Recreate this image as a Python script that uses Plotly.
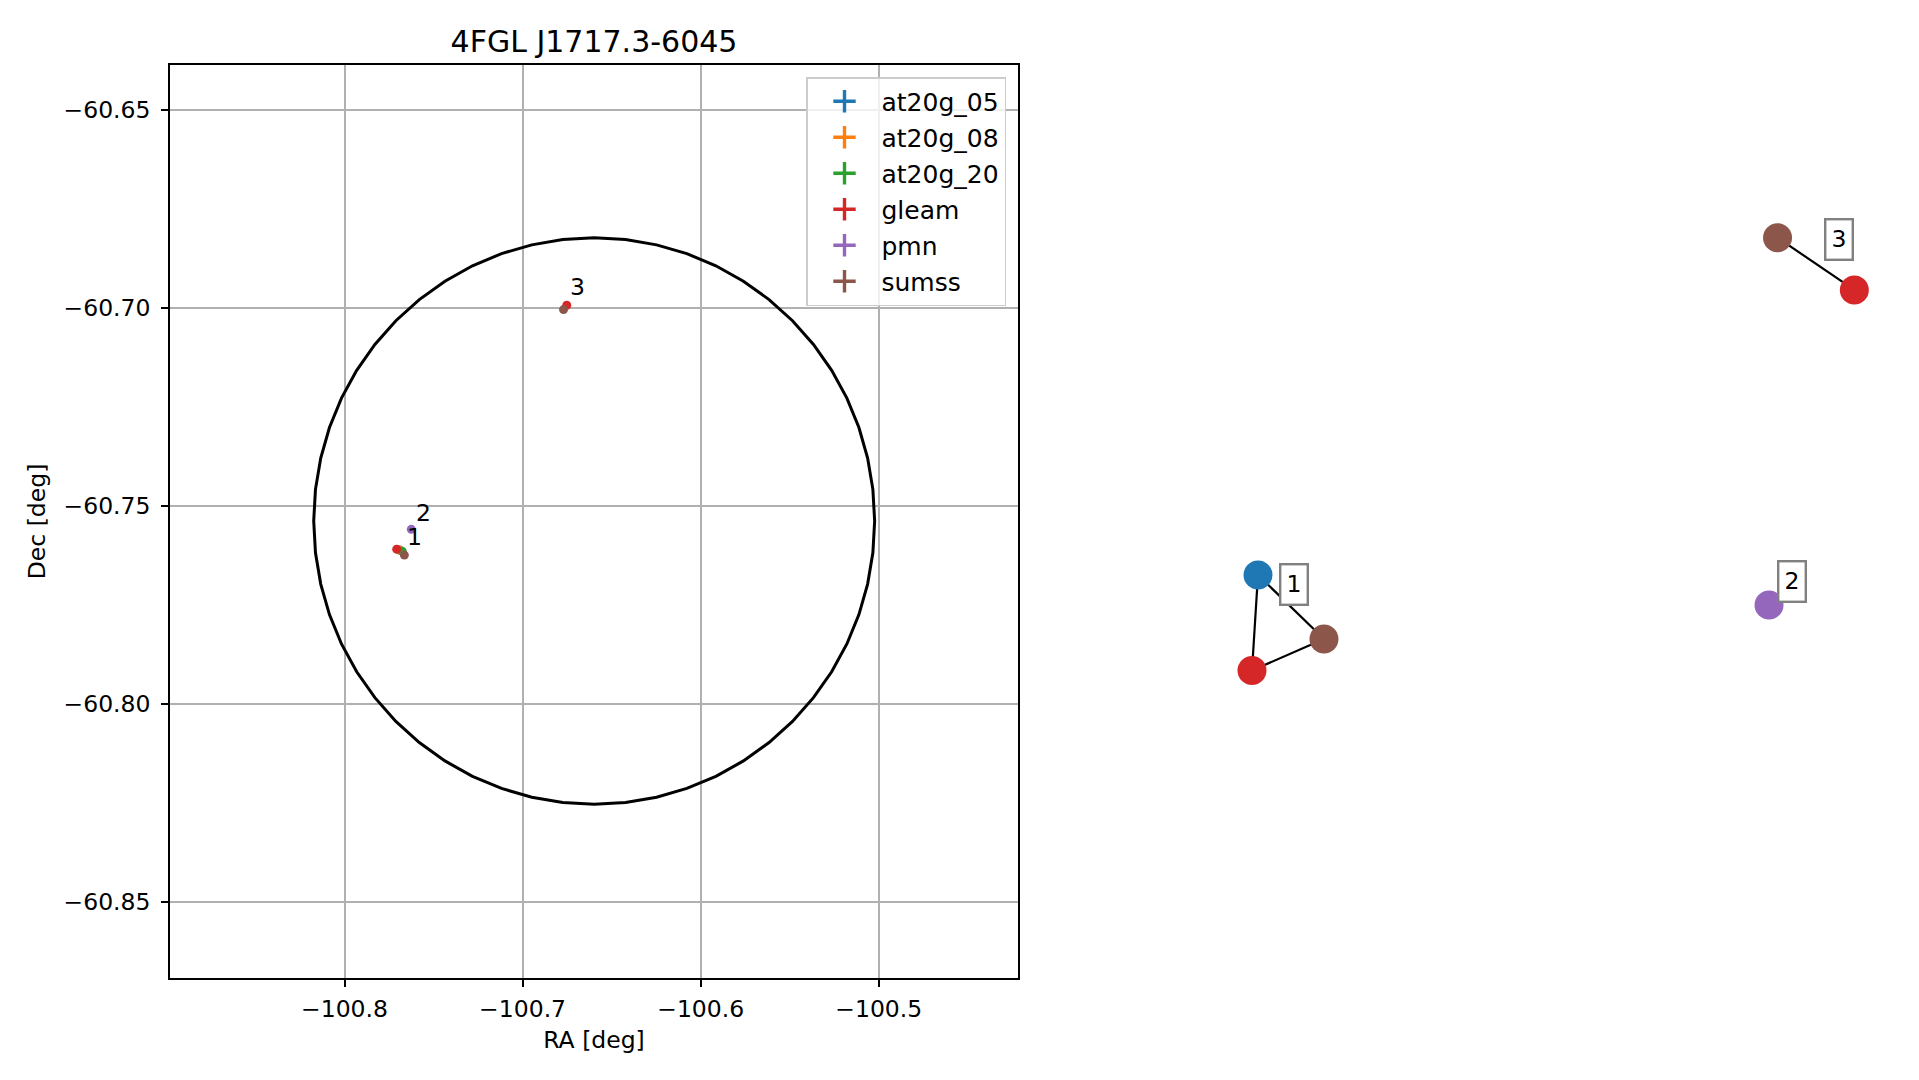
import numpy as np
import plotly.graph_objects as go

# ---------------- data ----------------
title_text = "4FGL J1717.3-6045"
catalogs = ["at20g_05", "at20g_08", "at20g_20", "gleam", "pmn", "sumss"]
cat_colors = ["#1f77b4", "#ff7f0e", "#2ca02c", "#d62728", "#9467bd", "#8c564b"]

ra_at20g_05 = [-100.7691]
dec_at20g_05 = [-60.7611]
ra_at20g_08 = [-100.7691]
dec_at20g_08 = [-60.7611]
ra_at20g_20 = [-100.7676]
dec_at20g_20 = [-60.7614]
ra_gleam = [-100.7707, -100.6752]
dec_gleam = [-60.7609, -60.6993]
ra_pmn = [-100.7625]
dec_pmn = [-60.7559]
ra_sumss = [-100.7664, -100.6770]
dec_sumss = [-60.7624, -60.7004]

ra_err_at20g_05 = [0.0002]
dec_err_at20g_05 = [0.0001]
ra_err_at20g_08 = [0.0002]
dec_err_at20g_08 = [0.0001]
ra_err_at20g_20 = [0.0002]
dec_err_at20g_20 = [0.0001]
ra_err_gleam = [0.0004, 0.0004]
dec_err_gleam = [0.0002, 0.0002]
ra_err_pmn = [0.0004]
dec_err_pmn = [0.0002]
ra_err_sumss = [0.0004, 0.0004]
dec_err_sumss = [0.0002, 0.0002]

group_labels = ["1", "2", "3"]
group_label_ra = [-100.7606, -100.7557, -100.6689]
group_label_dec = [-60.7579, -60.7517, -60.6946]

# 4FGL error ellipse
circle_ra0 = -100.6598
circle_dec0 = -60.7538
circle_r_ra = 0.1575
circle_r_dec = 0.07154
circle_nvert = 56

x_ticks = [-100.8, -100.7, -100.6, -100.5]
y_ticks = [-60.65, -60.70, -60.75, -60.80, -60.85]
x_range = [-100.8980, -100.4218]
y_range = [-60.86919, -60.63864]

# association graph (layout coordinates)
node_names = ["at20g", "sumss", "gleam", "pmn", "sumss", "gleam"]
node_colors = ["#1f77b4", "#8c564b", "#d62728", "#9467bd", "#8c564b", "#d62728"]
node_x = [0.2535, 0.3302, 0.2465, 0.8477, 0.8576, 0.9469]
node_y = [0.4414, 0.3713, 0.3368, 0.4085, 0.8109, 0.7536]
edges = [(0, 2), (0, 1), (2, 1), (4, 5)]
node_label_text = ["1", "2", "3"]
node_label_x = [0.2957, 0.8741, 0.9291]
node_label_y = [0.4315, 0.4348, 0.8089]

# ---------------- figure ----------------
W, H = 1919, 1080
FONT = "DejaVu Sans"
FS = 23.5
fig = go.Figure()

series = [
    (ra_at20g_05, dec_at20g_05, ra_err_at20g_05, dec_err_at20g_05),
    (ra_at20g_08, dec_at20g_08, ra_err_at20g_08, dec_err_at20g_08),
    (ra_at20g_20, dec_at20g_20, ra_err_at20g_20, dec_err_at20g_20),
    (ra_gleam, dec_gleam, ra_err_gleam, dec_err_gleam),
    (ra_pmn, dec_pmn, ra_err_pmn, dec_err_pmn),
    (ra_sumss, dec_sumss, ra_err_sumss, dec_err_sumss),
]

# circle
t = np.linspace(0, 2 * np.pi, circle_nvert + 1)
fig.add_trace(go.Scatter(
    x=circle_ra0 + circle_r_ra * np.cos(t),
    y=circle_dec0 + circle_r_dec * np.sin(t),
    mode="lines", line=dict(color="black", width=3),
    showlegend=False, hoverinfo="skip", xaxis="x", yaxis="y"))

for name, col, (ra, dec, era, edec) in zip(catalogs, cat_colors, series):
    fig.add_trace(go.Scatter(
        x=ra, y=dec, mode="markers", name=name,
        marker=dict(color=col, size=9, symbol="circle"),
        error_x=dict(type="data", array=era, color=col, thickness=1.6, width=0),
        error_y=dict(type="data", array=edec, color=col, thickness=1.6, width=0),
        showlegend=False, xaxis="x", yaxis="y"))
    # legend entry (errorbar style)
    fig.add_trace(go.Scatter(
        x=[None], y=[None], mode="markers", name=name, legendgroup=name,
        marker=dict(symbol="cross-thin", size=24, color=col,
                    line=dict(color=col, width=3.4)),
        showlegend=True, xaxis="x", yaxis="y"))

annotations = []
for lab, lx, ly in zip(group_labels, group_label_ra, group_label_dec):
    annotations.append(dict(x=lx, y=ly, xref="x", yref="y", text=lab,
                            showarrow=False, font=dict(family=FONT, size=FS, color="black")))

# graph panel
ex, ey = [], []
for a, b in edges:
    ex += [node_x[a], node_x[b], None]
    ey += [node_y[a], node_y[b], None]
fig.add_trace(go.Scatter(x=ex, y=ey, mode="lines", line=dict(color="black", width=2.2),
                         showlegend=False, hoverinfo="skip", xaxis="x2", yaxis="y2"))
fig.add_trace(go.Scatter(x=node_x, y=node_y, mode="markers", text=node_names,
                         marker=dict(color=node_colors, size=29, line=dict(width=0)),
                         showlegend=False, xaxis="x2", yaxis="y2"))
for lab, lx, ly in zip(node_label_text, node_label_x, node_label_y):
    annotations.append(dict(x=lx, y=ly, xref="x2", yref="y2", text=lab, showarrow=False,
                            font=dict(family=FONT, size=FS, color="black"),
                            bgcolor="white", bordercolor="#808080", borderwidth=2.4,
                            borderpad=5))

x0, x1 = 170 / W, 1018 / W
y0, y1 = 1 - 978 / H, 1 - 65 / H
axis_common = dict(showgrid=True, gridcolor="#b0b0b0", gridwidth=1.6, zeroline=False,
                   showline=True, linecolor="black", linewidth=1.6, mirror=True,
                   ticks="outside", ticklen=7, tickwidth=1.6, tickcolor="black",
                   tickfont=dict(family=FONT, size=FS, color="black"))

fig.update_layout(
    width=W, height=H, margin=dict(l=0, r=0, t=0, b=0),
    paper_bgcolor="white", plot_bgcolor="white",
    font=dict(family=FONT, size=FS, color="black"),
    title=dict(text=title_text, x=(x0 + x1) / 2, xanchor="center", xref="paper",
               y=1 - 41 / H, yanchor="middle", yref="paper",
               font=dict(family=FONT, size=30, color="black")),
    xaxis=dict(domain=[x0, x1], range=x_range, tickvals=x_ticks,
               ticktext=["\u2212%.1f" % abs(v) for v in x_ticks],
               title=dict(text="RA [deg]", font=dict(family=FONT, size=FS), standoff=10),
               ticklabelstandoff=2,
               anchor="y", **axis_common),
    yaxis=dict(domain=[y0, y1], range=y_range, tickvals=y_ticks,
               ticktext=["\u2212%.2f" % abs(v) for v in y_ticks],
               title=dict(text="Dec [deg]", font=dict(family=FONT, size=FS), standoff=11),
               ticklabelstandoff=6,
               anchor="x", **axis_common),
    xaxis2=dict(domain=[1040 / W, 1900 / W], range=[0, 1], visible=False, anchor="y2"),
    yaxis2=dict(domain=[y0, y1], range=[0, 1], visible=False, anchor="x2"),
    legend=dict(x=1006 / W, xanchor="right", y=1 - 77 / H, yanchor="top",
                bgcolor="rgba(255,255,255,0.8)", bordercolor="#cccccc", borderwidth=1.5,
                font=dict(family=FONT, size=25, color="black"), tracegroupgap=0.5,
                itemwidth=64),
    annotations=annotations,
    showlegend=True,
)

fig.write_html("out.html", config={"displayModeBar": False},
               post_script="document.body.style.margin='0';")
